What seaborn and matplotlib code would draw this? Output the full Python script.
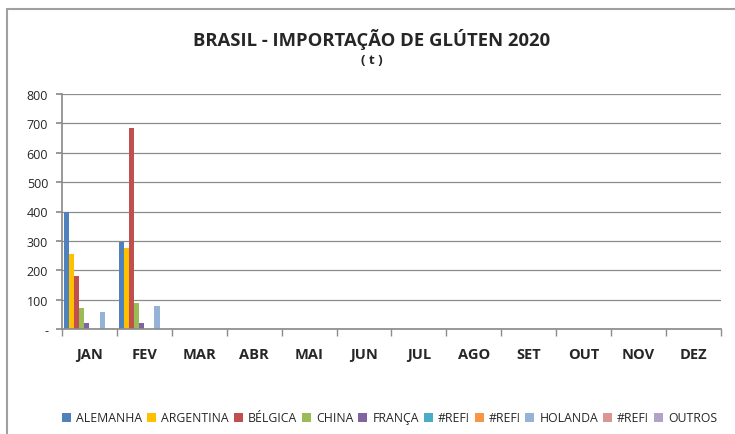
import pandas as pd
import numpy as np
import matplotlib
matplotlib.use("Agg")
import matplotlib.pyplot as plt
from matplotlib.patches import Patch
from matplotlib.lines import Line2D
import seaborn as sns

#Dados (toneladas)
meses = ["JAN", "FEV", "MAR", "ABR", "MAI", "JUN", "JUL", "AGO", "SET", "OUT", "NOV", "DEZ"]
paises = ["ALEMANHA", "ARGENTINA", "BÉLGICA", "CHINA", "FRANÇA", "#REF!", "#REF!", "HOLANDA", "#REF!", "OUTROS"]
cores = ["#4F81BD", "#FFC000", "#C0504D", "#9BBB59", "#8064A2",
         "#4BACC6", "#F79646", "#95B3D7", "#D99694", "#B3A2C7"]

#so JAN e FEV tem valores, o resto do ano esta vazio
jan = [400, 255, 180, 72, 20, 0, 0, 58, 0, 0]
fev = [295, 275, 683, 87, 20, 0, 0, 78, 0, 0]

linhas = []
for i, pais in enumerate(paises):
    for m, mes in enumerate(meses):
        if m == 0:
            v = jan[i]
        elif m == 1:
            v = fev[i]
        else:
            v = 0
        linhas.append({"mes": mes, "serie": f"s{i}", "valor": v})
df = pd.DataFrame(linhas)

sns.set_theme(style="white")
plt.rcParams["font.family"] = ["Open Sans", "DejaVu Sans"]

fig = plt.figure(figsize=(7.35, 4.35), dpi=100)
ax = fig.add_axes([62 / 735, 1 - 330 / 435, (721 - 62) / 735, (330 - 95) / 435])

serie_ids = [f"s{i}" for i in range(len(paises))]
sns.barplot(data=df, x="mes", y="valor", hue="serie", order=meses, hue_order=serie_ids,
            palette=dict(zip(serie_ids, cores)), width=0.92, gap=0, legend=False,
            saturation=1, ax=ax, linewidth=0)

#eixos e grade no estilo do Excel
ax.set_ylim(0, 800)
ax.set_xlim(-0.5, 11.5)
ax.set_yticks(range(0, 801, 100))
ax.set_yticklabels(["-"] + [str(v) for v in range(100, 801, 100)], fontsize=9)
ax.yaxis.grid(True, color="#8C8C8C", linewidth=0.9)
ax.set_axisbelow(True)
for s in ["top", "right"]:
    ax.spines[s].set_visible(False)
ax.spines["left"].set_color("#8C8C8C")
ax.spines["bottom"].set_color("#8C8C8C")
ax.tick_params(axis="y", left=True, length=4, color="#8C8C8C", pad=6)
ax.set_xticks(range(12))
ax.set_xticklabels(meses, fontsize=10.5, fontweight="bold")
ax.set_xticks(np.arange(-0.5, 12, 1), minor=True)
ax.tick_params(axis="x", which="major", length=0, pad=13)
ax.tick_params(axis="x", which="minor", bottom=True, length=5, color="#8C8C8C")
ax.set_xlabel("")
ax.set_ylabel("")

fig.text(0.506, 1 - 40 / 435, "BRASIL - IMPORTAÇÃO DE GLÚTEN 2020", ha="center", va="center",
         fontsize=13.3, fontweight="bold")
fig.text(0.506, 1 - 60 / 435, "( t )", ha="center", va="center", fontsize=9.5, fontweight="bold")

#legenda com os nomes repetidos (#REF!)
handles = [Patch(facecolor=c, edgecolor="none") for c in cores]
fig.legend(handles, paises, loc="center", bbox_to_anchor=(0.53, 1 - 419 / 435), ncol=10,
           frameon=False, fontsize=8.8, handlelength=0.75, handleheight=0.75,
           handletextpad=0.4, columnspacing=0.4)

#moldura do grafico
fig.add_artist(Line2D([7 / 735, 1], [1 - 10 / 435, 1 - 10 / 435], color="#A0A0A0", linewidth=1.5))
fig.add_artist(Line2D([7 / 735, 7 / 735], [0, 1 - 10 / 435], color="#A0A0A0", linewidth=1.5))

fig.savefig("out.png", dpi=100)
plt.close()
